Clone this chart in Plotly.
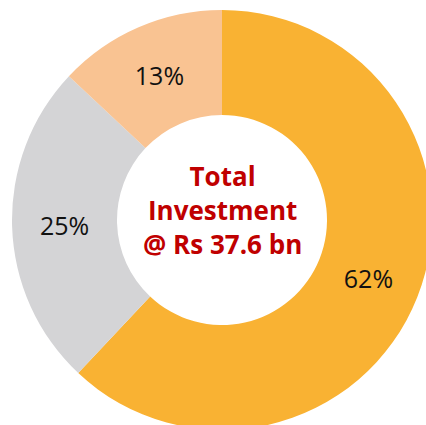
import plotly.graph_objects as go

labels = ["Segment A", "Segment B", "Segment C"]
values = [62, 25, 13]
colors = ["#F9B233", "#D4D4D6", "#F9C392"]
center_text = "<b>Total<br>Investment<br>@ Rs 37.6 bn</b>"

W, H = 444, 440
cx, cy, r = 222, 220, 210

fig = go.Figure(go.Pie(
    labels=labels,
    values=values,
    hole=0.5,
    sort=False,
    direction="clockwise",
    rotation=0,
    marker=dict(colors=colors, line=dict(width=0)),
    texttemplate="%{percent:.0%}",
    textposition="inside",
    insidetextorientation="horizontal",
    textfont=dict(family="Open Sans", size=25, color="#111111"),
    domain=dict(x=[(cx - r) / W, (cx + r) / W], y=[(H - cy - r) / H, (H - cy + r) / H]),
    showlegend=False,
    hoverinfo="none",
))

fig.add_annotation(
    x=cx / W, y=(H - 210) / H, xref="paper", yref="paper",
    text=center_text, showarrow=False,
    font=dict(family="Open Sans", size=26, color="#C00000"),
    align="center",
)

fig.update_layout(
    width=W, height=H,
    margin=dict(l=0, r=0, t=0, b=0),
    paper_bgcolor="white",
    plot_bgcolor="white",
)

fig.write_html("out.html", config={"displayModeBar": False},
               post_script="document.body.style.margin='0';document.body.style.overflow='hidden';")
